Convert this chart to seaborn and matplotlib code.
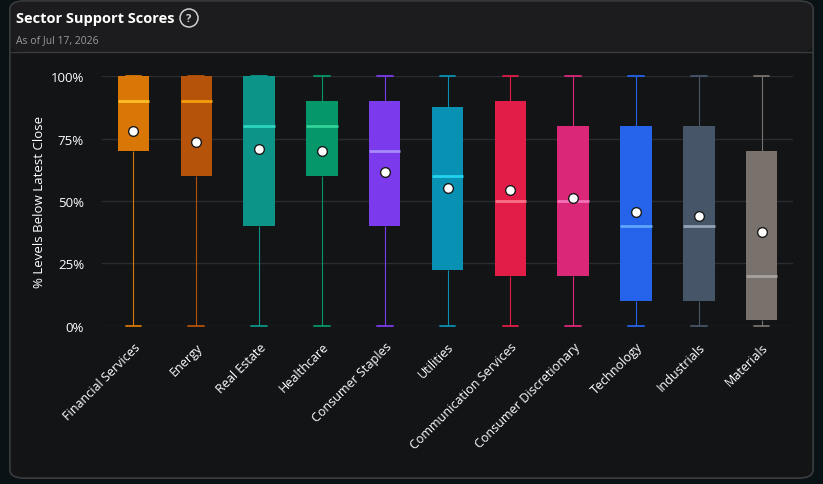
import pandas as pd
import seaborn as sns
import matplotlib.pyplot as plt
from matplotlib.patches import FancyBboxPatch, Circle
from matplotlib.lines import Line2D

# Sector support scores (percent of levels below latest close)
sectors = ['Financial Services', 'Energy', 'Real Estate', 'Healthcare',
           'Consumer Staples', 'Utilities', 'Communication Services',
           'Consumer Discretionary', 'Technology', 'Industrials', 'Materials']
lows = [0, 0, 0, 0, 0, 0, 0, 0, 0, 0, 0]
q1s = [70, 60, 40, 60, 40, 22.5, 20, 20, 10, 10, 2.5]
medians = [90, 90, 80, 80, 70, 60, 50, 50, 40, 40, 20]
q3s = [100, 100, 100, 90, 90, 87.5, 90, 80, 80, 80, 70]
highs = [100, 100, 100, 100, 100, 100, 100, 100, 100, 100, 100]
means = [78, 73.5, 70.8, 70, 61.6, 55.3, 54.3, 51.2, 45.5, 43.9, 37.7]

box_colors = ['#D97706', '#B45309', '#0D9488', '#059669', '#7C3AED', '#0891B2',
              '#E11D48', '#DB2777', '#2563EB', '#475569', '#78716C']
median_colors = ['#FBBF24', '#F59E0B', '#2DD4BF', '#34D399', '#A78BFA', '#22D3EE',
                 '#FB7185', '#F472B6', '#60A5FA', '#94A3B8', '#A8A29E']

# five-number rows so the boxes land on the stats above
rows = []
for i, s in enumerate(sectors):
    for v in (lows[i], q1s[i], medians[i], q3s[i], highs[i]):
        rows.append({'sector': s, 'value': v})
df = pd.DataFrame(rows)

sns.set_style('dark')
plt.rcParams['font.family'] = ['Open Sans', 'DejaVu Sans']

fig = plt.figure(figsize=(8.23, 4.85), dpi=100)
fig.patch.set_facecolor('#0a1216')

# card background
card = FancyBboxPatch((0.012, 0.012), 0.976, 0.984, boxstyle='round,pad=0,rounding_size=0.018',
                      transform=fig.transFigure, facecolor='#131416', edgecolor='#3b3d40',
                      linewidth=1.2, zorder=-3)
fig.patches.append(card)
head = FancyBboxPatch((0.0135, 0.891), 0.973, 0.103, boxstyle='round,pad=0,rounding_size=0.015',
                      transform=fig.transFigure, facecolor='#1c1c1e', edgecolor='none', zorder=-2)
fig.patches.append(head)
fig.lines.append(Line2D([0.0135, 0.9865], [0.890, 0.890], transform=fig.transFigure,
                        color='#3a3b3d', linewidth=1, zorder=-1))

fig.text(0.019, 0.961, 'Sector Support Scores', color='white', fontsize=10.5,
         fontweight='bold', va='center', ha='left')
fig.patches.append(Circle((1.89, 4.66), 0.09, transform=fig.dpi_scale_trans,
                          facecolor='none', edgecolor='#cfcfcf', linewidth=1.1))
fig.text(1.89, 4.655, '?', color='#cfcfcf', fontsize=8, fontweight='bold',
         ha='center', va='center', transform=fig.dpi_scale_trans)
fig.text(0.019, 0.917, 'As of Jul 17, 2026', color='#9a9a9a', fontsize=7.5,
         va='center', ha='left')

ax = fig.add_axes([0.124, 0.3258, 0.8396, 0.5154], zorder=2)
ax.set_facecolor('none')

for i, s in enumerate(sectors):
    sub = df[df['sector'] == s]
    sns.boxplot(data=sub, x='sector', y='value', order=sectors, ax=ax,
                color=box_colors[i], saturation=1, width=0.5, whis=(0, 100),
                showfliers=False, linecolor=box_colors[i], linewidth=1,
                boxprops=dict(edgecolor=box_colors[i], linewidth=0, zorder=3),
                medianprops=dict(color=median_colors[i], linewidth=2, zorder=4),
                whiskerprops=dict(color=box_colors[i], linewidth=0.8, zorder=2),
                capprops=dict(color=box_colors[i], linewidth=1.3, clip_on=False, zorder=2))

sns.stripplot(x=sectors, y=means, order=sectors, ax=ax, jitter=False, color='white',
              size=7, linewidth=1, edgecolor='#1a1a1a', zorder=5)

ax.set_xlim(-0.5, 10.5)
ax.set_ylim(0, 100)
ax.set_yticks([0, 25, 50, 75, 100])
ax.set_yticklabels(['0%', '25%', '50%', '75%', '100%'])
ax.grid(axis='y', color='#2a2c30', linewidth=1)
ax.grid(axis='x', visible=False)
ax.set_axisbelow(True)
for sp in ax.spines.values():
    sp.set_visible(False)
ax.tick_params(axis='both', length=0, colors='white', labelsize=9)
ax.tick_params(axis='y', pad=13, labelsize=9.5)
ax.set_xlabel('')
ax.set_ylabel('% Levels Below Latest Close', color='white', fontsize=9.5, labelpad=3)
plt.setp(ax.get_xticklabels(), rotation=45, ha='right', rotation_mode='anchor')
ax.tick_params(axis='x', pad=10)

fig.savefig('out.png', dpi=100, facecolor=fig.get_facecolor())
